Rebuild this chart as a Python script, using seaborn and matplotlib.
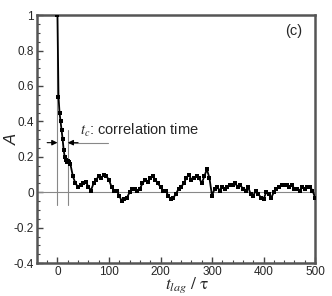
import numpy as np
import pandas as pd
import matplotlib
matplotlib.use("Agg")
import matplotlib.pyplot as plt
from matplotlib.ticker import MultipleLocator, FormatStrFormatter
import seaborn as sns

# autocorrelation values
lag_early = [0, 2, 4, 6, 8, 10, 12, 14, 16, 18, 20, 22]
a_early = [1.0, 0.54, 0.45, 0.40, 0.35, 0.30, 0.24, 0.20, 0.18, 0.17, 0.175, 0.17]

lag_late = list(range(25, 505, 5))
a_late = [0.16, 0.09, 0.05, 0.03, 0.04, 0.05, 0.06, 0.03, 0.01, 0.05,
          0.07, 0.09, 0.08, 0.10, 0.09, 0.07, 0.03, 0.01, 0.01, -0.02,
          -0.05, -0.04, -0.03, 0.00, 0.02, 0.02, 0.01, 0.02, 0.05, 0.07,
          0.06, 0.08, 0.09, 0.07, 0.05, 0.03, 0.01, 0.01, -0.02, -0.04,
          -0.03, -0.01, 0.02, 0.03, 0.05, 0.08, 0.10, 0.07, 0.08, 0.09,
          0.08, 0.05, 0.09, 0.13, 0.08, -0.02, 0.02, 0.03, 0.01, 0.03,
          0.02, 0.03, 0.04, 0.04, 0.05, 0.03, 0.04, 0.02, 0.01, 0.03,
          -0.01, -0.02, 0.01, -0.01, -0.03, -0.04, 0.00, -0.01, -0.03, 0.00,
          0.02, 0.03, 0.04, 0.04, 0.04, 0.03, 0.04, 0.02, 0.02, 0.01,
          0.03, 0.02, 0.03, 0.03, 0.01, -0.03]

t_c = 20
arrow_y = 0.28

df = pd.DataFrame({"lag": lag_early + lag_late, "A": a_early + a_late})

sns.set_style("ticks")
plt.rcParams['font.family'] = ['Liberation Sans', 'DejaVu Sans']
plt.rcParams['mathtext.fontset'] = 'stix'

fig = plt.figure(figsize=(3.32, 2.96), dpi=100)
ax = fig.add_axes([0.111, 0.111, 0.838, 0.838])

# reference lines
ax.axhline(0, color='#888888', lw=0.8, zorder=1)
ax.plot([0, 0], [-0.07, 1.0], color='#888888', lw=0.8, zorder=1)
ax.plot([t_c, t_c], [-0.07, 0.35], color='#888888', lw=0.8, zorder=1)
ax.plot([t_c, 98], [arrow_y, arrow_y], color='#888888', lw=0.8, zorder=1)

sns.lineplot(data=df, x="lag", y="A", ax=ax, color='black', lw=1.3,
             marker='s', markersize=3.4, markeredgewidth=0, zorder=3)

# arrows marking t_c
arrowprops = dict(arrowstyle='-|>', color='black', lw=0.8,
                  mutation_scale=8, shrinkA=0, shrinkB=0)
ax.annotate('', xy=(0, arrow_y), xytext=(-20, arrow_y), arrowprops=arrowprops)
ax.annotate('', xy=(t_c, arrow_y), xytext=(40, arrow_y), arrowprops=arrowprops)

ax.text(44, 0.325, r'$t_c$: correlation time', fontsize=10.5,
        ha='left', va='baseline')
ax.text(476, 0.887, '(c)', fontsize=10.5, ha='right', va='baseline')

ax.set_xlim(-40, 500)
ax.set_ylim(-0.4, 1.0)
ax.xaxis.set_major_locator(MultipleLocator(100))
ax.xaxis.set_minor_locator(MultipleLocator(20))
ax.yaxis.set_major_locator(MultipleLocator(0.2))
ax.yaxis.set_minor_locator(MultipleLocator(0.05))
ax.yaxis.set_major_formatter(FormatStrFormatter('%g'))
ax.tick_params(which='both', direction='in', top=False, right=False,
               color='#444444', labelsize=8.5, pad=2)
ax.tick_params(which='major', length=4, width=1)
ax.tick_params(which='minor', length=2, width=0.8)

for s in ax.spines.values():
    s.set_visible(True)
    s.set_color('#555555')
    s.set_linewidth(1.8)

ax.set_xlabel(r'$t_{lag}\ /\ \mathrm{\tau}$', fontsize=12.5)
ax.xaxis.set_label_coords(0.54, -0.09)
ax.xaxis.label.set_va('center')
ax.set_ylabel('A', fontsize=12, fontstyle='italic')
ax.yaxis.set_label_coords(-0.087, 0.5)
ax.yaxis.label.set_va('center')

fig.savefig("out.png", dpi=100)
